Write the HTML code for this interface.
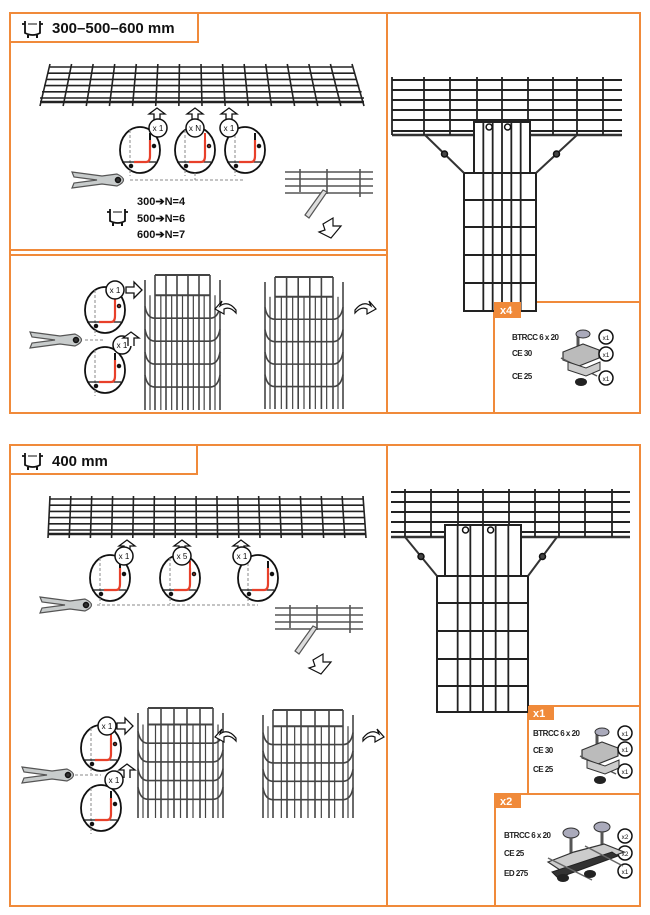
<!DOCTYPE html>
<html><head><meta charset="utf-8">
<style>
html,body{margin:0;padding:0;background:#fff;}
body{width:650px;height:915px;overflow:hidden;position:relative;font-family:"Liberation Sans",sans-serif;}
svg{position:absolute;left:0;top:0;}
text{font-family:"Liberation Sans",sans-serif;}
</style></head>
<body>
<svg id="s" width="650" height="915" viewBox="0 0 650 915" xmlns="http://www.w3.org/2000/svg">
<g fill="none" stroke="#f08a3a" stroke-width="2">
<rect x="10" y="13" width="630" height="400"/>
<line x1="387" y1="13" x2="387" y2="413"/>
<line x1="10" y1="250" x2="387" y2="250"/>
<line x1="10" y1="255" x2="387" y2="255"/>
<rect x="10" y="13" width="188" height="29"/>
<rect x="494" y="302" width="146" height="111"/>
<rect x="10" y="445" width="630" height="461"/>
<line x1="387" y1="445" x2="387" y2="906"/>
<rect x="10" y="445" width="187" height="29"/>
<rect x="528" y="706" width="112" height="88"/>
<rect x="495" y="794" width="145" height="112"/>
</g>
<g font-weight="bold" fill="#111">
<text x="52" y="33" font-size="15">300–500–600 mm</text>
<text x="52" y="466" font-size="15">400 mm</text>
<text x="137" y="205" font-size="11">300➔N=4</text>
<text x="137" y="222" font-size="11">500➔N=6</text>
<text x="137" y="238" font-size="11">600➔N=7</text>
</g>
<g font-size="8" fill="#222" letter-spacing="-0.5" font-weight="bold">
<text x="512" y="340">BTRCC 6 x 20</text><text x="512" y="356">CE 30</text><text x="512" y="379">CE 25</text>
<text x="533" y="736">BTRCC 6 x 20</text><text x="533" y="753">CE 30</text><text x="533" y="772">CE 25</text>
<text x="504" y="838">BTRCC 6 x 20</text><text x="504" y="856">CE 25</text><text x="504" y="876">ED 275</text>
</g>
<g id="g"></g>
<g fill="#f08a3a">
<rect x="494" y="302" width="27" height="16"/>
<rect x="528" y="706" width="26" height="14"/>
<rect x="495" y="794" width="26" height="14"/>
</g>
<g fill="#fff" font-weight="bold" font-size="11">
<text x="500" y="314">x4</text>
<text x="533" y="717">x1</text>
<text x="500" y="805">x2</text>
</g>
</svg>
<script>
var g=document.getElementById('g'),h='';
function L(x1,y1,x2,y2,c,w,d){h+='<line x1="'+x1+'" y1="'+y1+'" x2="'+x2+'" y2="'+y2+'" stroke="'+(c||'#222')+'" stroke-width="'+(w||1.6)+'"'+(d?' stroke-dasharray="'+d+'"':'')+'/>';}
function C(x,y,r,t,f){h+='<circle cx="'+x+'" cy="'+y+'" r="'+r+'" fill="'+(f||'#fff')+'" stroke="#111" stroke-width="1.5"/>';if(t)h+='<text x="'+x+'" y="'+(y+3)+'" font-size="'+(r*0.9)+'" text-anchor="middle" fill="#111">'+t+'</text>';}
function E(x,y,rx,ry){h+='<ellipse cx="'+x+'" cy="'+y+'" rx="'+rx+'" ry="'+ry+'" fill="#fff" stroke="#111" stroke-width="1.8"/>';}
function P(d,f,s,w){h+='<path d="'+d+'" fill="'+(f||'none')+'" stroke="'+(s||'#111')+'" stroke-width="'+(w||1.5)+'"/>';}
function tray(x1t,x2t,yt,x1b,x2b,yb,nv,nh){
 for(var i=0;i<=nh;i++){var t=i/nh;L(x1t+(x1b-x1t)*t,yt+(yb-yt)*t,x2t+(x2b-x2t)*t,yt+(yb-yt)*t);}
 for(var j=0;j<=nv;j++){var s=j/nv;L(x1t+(x2t-x1t)*s,yt-3,x1b+(x2b-x1b)*s,yb+8);}
 L(x1b,yb+4,x2b,yb+4,'#222',2.5);
}
tray(50,352,67,40,364,98,14,5);
tray(50,363,499,48,366,530,15,5);
function det(x,y,lab,lx,ly,red){E(x,y,20,23);L(x-10,y-20,x-10,y+26,'#888',1,'3,2');L(x-18,y+12,x+16,y+12,'#111',1.2);
 P('M'+(x-6)+' '+(y+12)+' L'+(x+6)+' '+(y+12)+' Q'+(x+10)+' '+(y+12)+' '+(x+10)+' '+(y+6)+' L'+(x+10)+' '+(y-10),'none','#e8402a',2.2);
 L(x+10,y-10,x+10,y-17,red?'#e8402a':'#111',2);C(x-9,y+16,1.5,'','#111');C(x+14,y-4,1.5,'',red?'#e8402a':'#111');
 if(lab){C(lx,ly,9,lab);}}
function up(x,y){P('M'+(x-3)+' '+(y+14)+' L'+(x-3)+' '+(y+6)+' L'+(x-8)+' '+(y+6)+' L'+x+' '+y+' L'+(x+8)+' '+(y+6)+' L'+(x+3)+' '+(y+6)+' L'+(x+3)+' '+(y+14),'#fff','#111',1.3);}
function right(x,y){P('M'+x+' '+(y-3)+' L'+(x+8)+' '+(y-3)+' L'+(x+8)+' '+(y-8)+' L'+(x+16)+' '+y+' L'+(x+8)+' '+(y+8)+' L'+(x+8)+' '+(y+3)+' L'+x+' '+(y+3)+'Z','#fff','#111',1.3);}
function cutter(x,y){P('M'+x+' '+(y-8)+' L'+(x+30)+' '+(y-4)+' L'+(x+45)+' '+(y-6)+' Q'+(x+58)+' '+y+' '+(x+45)+' '+(y+6)+' L'+(x+30)+' '+(y+4)+' L'+x+' '+(y+8)+' L'+(x+2)+' '+(y+3)+' L'+(x+25)+' '+y+' L'+(x+2)+' '+(y-3)+'Z','#c8cccc','#555',1.2);C(x+46,y,2.5,'','#333');}
up(157,108);up(195,108);up(229,108);
det(140,150,'x 1',158,128,false);det(195,150,'x N',195,128,true);det(245,150,'x 1',229,128,false);
L(130,180,245,180,'#888',1,'3,2');L(195,173,195,180,'#888',1,'3,2');
cutter(72,180);
function piece(x,y){for(var k=0;k<4;k++)L(x,y+k*7,x+88,y+k*7,'#555',1.5);L(x+15,y-3,x+15,y+20,'#555');L(x+42,y-3,x+42,y+22,'#555');L(x+75,y-3,x+75,y+25,'#555');P('M'+(x+20)+' '+(y+43)+' L'+(x+38)+' '+(y+18)+' L'+(x+42)+' '+(y+20)+' L'+(x+24)+' '+(y+46)+'Z','#ddd','#555',1.2);P('M'+(x+38)+' '+(y+52)+' l10 -6 l0 8 l8 0 l-10 12 l-12 -6 l6 -2z','#fff','#111',1.2);}
piece(285,172);piece(275,608);
function front(x,y,w,hh){var c='#444';for(var i=0;i<6;i++)L(x+10+i*(w-20)/5,y,x+10+i*(w-20)/5,y+hh,c,1.6);for(var i=0;i<7;i++)L(x+5+i*(w-10)/6,y+hh*0.15,x+5+i*(w-10)/6,y+hh,c,1.2);L(x+10,y,x+w-10,y,c,2);L(x+10,y+hh*0.15,x+w-10,y+hh*0.15,c,2);
 for(var r=1;r<5;r++){var yy=y+hh*0.17*r+hh*0.15;P('M'+x+' '+(yy-12)+' Q'+(x+2)+' '+yy+' '+(x+10)+' '+yy+' L'+(x+w-10)+' '+yy+' Q'+(x+w-2)+' '+yy+' '+(x+w)+' '+(yy-12),'none',c,1.6);}
 L(x,y+5,x,y+hh,c,1.6);L(x+w,y+5,x+w,y+hh,c,1.6);}
front(145,275,75,135);front(265,277,78,132);front(138,708,85,110);front(263,710,90,108);
function curl(x,y,f){P('M'+x+' '+y+' q'+(8*f)+' -10 '+(16*f)+' -4 l'+(-2*f)+' -5 l'+(7*f)+' 8 l'+(-9*f)+' 5 l0 -5 q'+(-6*f)+' -3 '+(-12*f)+' 4z','#fff','#111',1.2);}
curl(236,310,-1);curl(355,310,1);curl(236,738,-1);curl(363,738,1);
det(105,310,'x 1',115,290,true);det(105,370,'x 1',122,345,false);right(126,290);up(131,332);
cutter(30,340);L(85,340,105,340,'#888',1,'3,2');
up(127,540);up(182,540);up(241,540);
det(110,578,'x 1',124,556,false);det(180,578,'x 5',182,556,true);det(258,578,'x 1',242,556,false);
L(97,605,258,605,'#888',1,'3,2');cutter(40,605);
det(101,748,'x 1',107,726,true);det(101,808,'x 1',114,780,false);right(117,726);up(127,764);cutter(22,775);L(75,775,101,775,'#888',1,'3,2');
function T(x1,x2,rows,vs,bx1,bx2,ux1,ux2,uy,by,bb,rungs,d1,d2,rail){
 rows.forEach(function(y){L(x1,y,x2,y,'#222',2);});L(x1,rail,x2,rail,'#333',2.5);
 vs.forEach(function(x){L(x,rows[0]-3,x,rail,'#222',1.8);});
 h+='<rect x="'+ux1+'" y="'+uy+'" width="'+(ux2-ux1)+'" height="'+(by-uy)+'" fill="#fff" stroke="#222" stroke-width="2"/>';
 h+='<rect x="'+bx1+'" y="'+by+'" width="'+(bx2-bx1)+'" height="'+(bb-by)+'" fill="#fff" stroke="#222" stroke-width="2"/>';
 var n=6;for(var i=1;i<n;i++){var xx=ux1+(ux2-ux1)*i/n;L(xx,uy,xx,bb,'#222',1.8);}
 rungs.forEach(function(y){L(bx1,y,bx2,y,'#222',2);});
 L(d1,rail,bx1,by,'#333',2);L(d2,rail,bx2,by,'#333',2);
 C((d1+bx1)/2,(rail+by)/2,3,'','#444');C((d2+bx2)/2,(rail+by)/2,3,'','#444');
 C(ux1+(ux2-ux1)*0.27,uy+5,3);C(ux1+(ux2-ux1)*0.6,uy+5,3);}
T(392,622,[80,90,100,110,120,131],[392,424,450,477,502,528,553,577,603],464,536,474,530,122,173,311,[200,227,255,283],425,577,135);
T(391,630,[492,502,512,522,532],[405,431,458,483,509,535,559,585,612],437,528,445,521,525,576,712,[603,631,659,686],405,557,537);
function part(x,y){P('M'+(x-5)+' '+(y+10)+' l0 -14','none','#555',3);h+='<ellipse cx="'+x+'" cy="'+(y-6)+'" rx="7" ry="4" fill="#aab" stroke="#333"/>';
 P('M'+(x-20)+' '+(y+12)+' l20 -8 l16 6 l0 8 l-20 8 l-16 -6z','#bbb','#333',1.2);P('M'+(x-22)+' '+(y+18)+' l36 18','none','#555',1.5);P('M'+(x-15)+' '+(y+22)+' l18 6 l14 -6 l0 8 l-14 6 l-18 -6z','#ccc','#333',1);
 h+='<ellipse cx="'+(x-2)+'" cy="'+(y+42)+'" rx="6" ry="4" fill="#222"/>';}
part(583,340);part(602,738);
function smc(x,y,t){C(x,y,7,t);}
smc(606,337,'x1');smc(606,354,'x1');smc(606,378,'x1');
smc(625,733,'x1');smc(625,749,'x1');smc(625,771,'x1');
smc(625,836,'x2');smc(625,853,'x2');smc(625,871,'x1');
h+='<ellipse cx="571" cy="833" rx="8" ry="5" fill="#aab" stroke="#333"/><ellipse cx="602" cy="827" rx="8" ry="5" fill="#aab" stroke="#333"/>';
L(571,838,571,856,'#555',3);L(602,832,602,850,'#555',3);
P('M548 862 l26 -10 l30 -8 l20 8 l-58 22z','#ccc','#333',1.2);P('M552 872 l60 -20 l6 4 l-60 22z','#333','#222',1);
L(548,858,592,880,'#666',1.5);L(585,846,623,866,'#666',1.5);
h+='<ellipse cx="563" cy="878" rx="6" ry="4" fill="#222"/><ellipse cx="590" cy="874" rx="6" ry="4" fill="#222"/>';
function icon(x,y){P('M'+x+' '+(y-6)+' l3 0 M'+(x+18)+' '+(y-6)+' l3 0 M'+(x+3)+' '+(y-9)+' l0 12 q8 4 15 0 l0 -12','none','#111',1.8);L(x+6,y-6,x+15,y-6,'#111',1);L(x+6,y+5,x+6,y+8,'#111',2);L(x+15,y+5,x+15,y+8,'#111',2);}
icon(22,30);icon(22,462);icon(107,218);
g.innerHTML=h;
</script>
</body></html>
